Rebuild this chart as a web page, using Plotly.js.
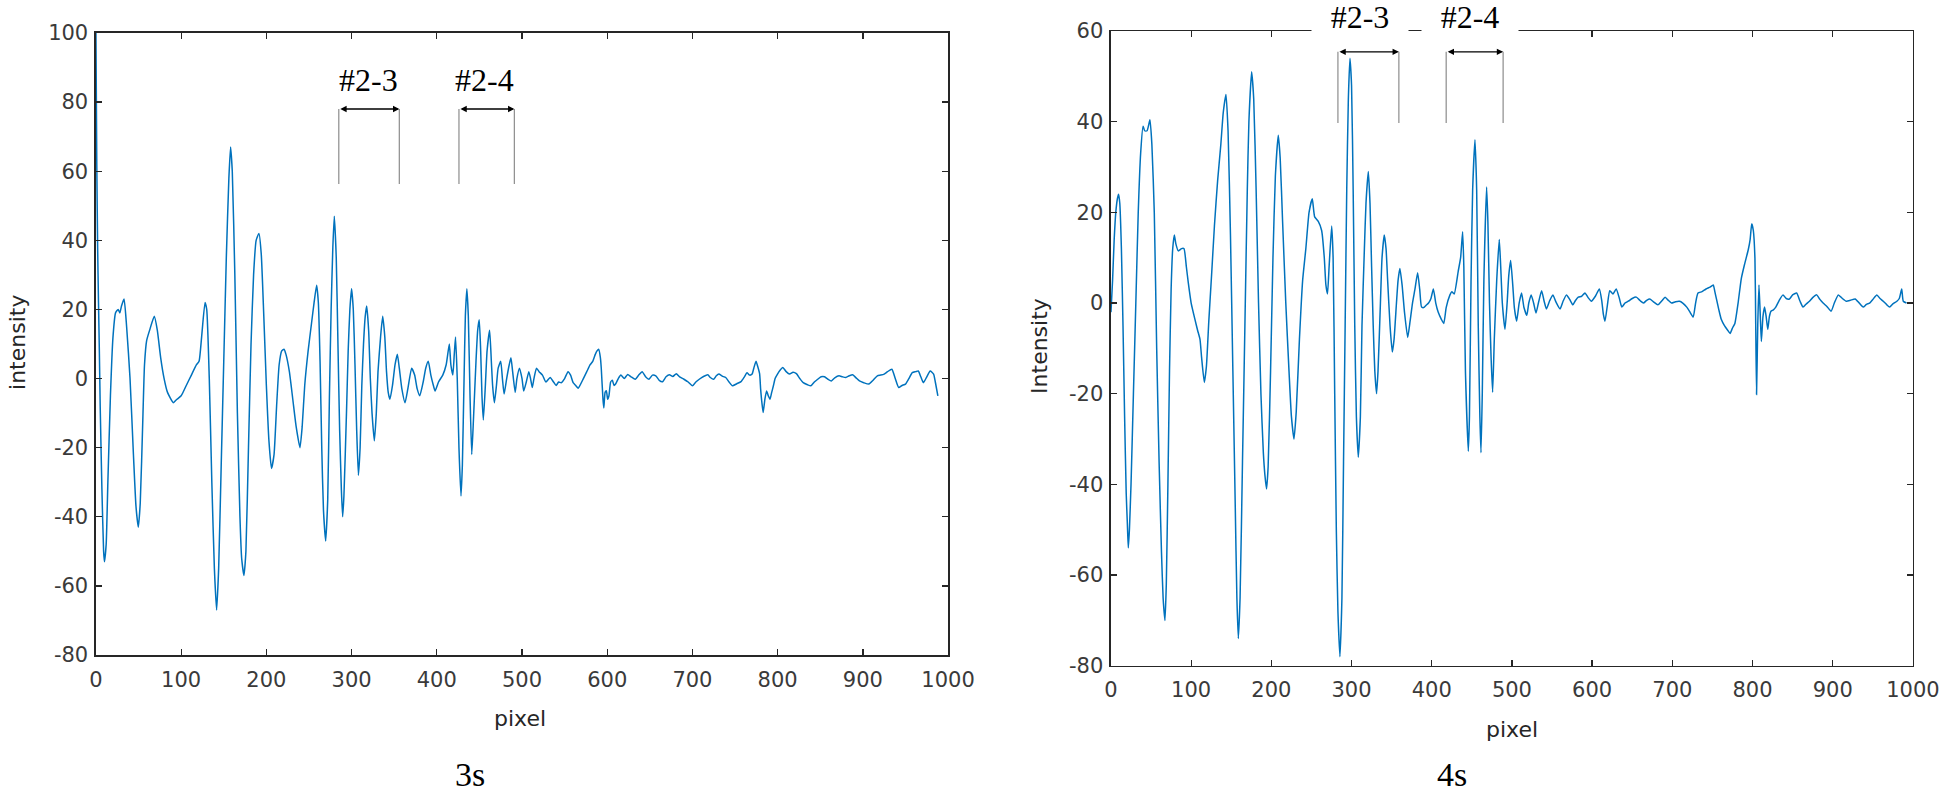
<!DOCTYPE html>
<html>
<head>
<meta charset="utf-8">
<script src="https://cdn.plot.ly/plotly-3.0.1.min.js"></script>
<style>
  html, body { margin: 0; padding: 0; background: #fff; }
  #chart { width: 1946px; height: 795px; }
</style>
</head>
<body>
<div id="chart"></div>
<script>
// 3s profile
const pixel3s = [
    0, 1, 2, 3, 4, 5, 7, 9, 10, 12,
    14, 17, 20, 23, 26, 28, 30, 33, 36, 40,
    44, 47, 49.7, 52, 55, 57, 59.5, 63, 68.5, 72,
    76, 80, 84, 90.8, 95, 100, 106, 112, 118, 121,
    124, 128, 130, 133, 136, 139, 141.6, 144, 147, 150,
    153, 156, 158, 160, 163, 166, 169, 171, 173.7, 176,
    179, 182, 185, 188, 191.3, 194, 197, 200, 203, 206,
    209, 212, 215, 218, 220.7, 223, 227, 231, 235, 239.4,
    242, 245, 249, 253, 256, 259, 261, 263, 265, 267,
    269.6, 272, 274, 276, 278, 279.7, 282, 284, 286, 288,
    289.5, 291, 294, 296, 298, 300, 302, 304, 306, 308,
    310, 312, 314, 316, 317.7, 320, 322, 324, 326.7, 329,
    331, 334, 336.5, 339, 341, 343, 345, 348, 351, 353.7,
    356, 359, 362.7, 366, 370.5, 374, 377, 380, 384, 387,
    390, 393, 396, 398, 402, 407, 411, 414.7, 416.5, 418.8,
    420.5, 422, 424, 426, 428.4, 430, 432, 433.5, 435.3, 437,
    439, 441, 443, 446, 448, 449.8, 451.5, 453, 454.6, 457,
    459, 462, 464, 465.5, 467.6, 470, 472, 475, 477, 479,
    482, 485, 487, 489, 492, 494, 497, 500, 502, 505,
    508, 510, 512, 514, 517, 520, 524, 528, 533, 537,
    540, 543, 546, 550, 554, 557, 560, 563, 566, 569,
    572, 576, 580, 583, 586, 588, 590, 592, 593, 595,
    596, 597.5, 599, 600.5, 602, 604, 606, 608, 610, 613,
    616, 620, 624, 628, 633, 637, 641, 645, 649, 653,
    657, 661, 665, 669, 673, 677, 681, 685, 690, 695,
    700, 704, 708, 713, 718, 721, 725, 728, 731, 735,
    739, 743, 747, 752, 757, 761, 764, 767, 770, 772,
    774.6, 776, 778.8, 780, 781.5, 783, 785, 787, 789, 791,
    793, 795, 797, 799.8, 803, 806, 810, 814, 818, 822,
    826, 830, 835, 839, 843, 847, 851, 855, 859, 863,
    867, 872, 876, 880, 884, 888, 892, 896, 901, 907,
    912, 917, 921, 925, 929, 934, 938, 942, 946, 950,
    954, 958, 962, 965, 968, 971, 975, 979, 983, 985, 988
]
const intensity3s = [
    100, 62, 38, 22, 8, -8, -32, -50, -53, -48,
    -30, -5, 12, 19, 20, 19, 21, 23, 15, 0,
    -22, -37, -43, -36, -12, 4, 11, 14, 18, 14,
    6, 0, -4, -7, -6, -5, -2, 1, 4, 5,
    12, 22, 20, 0, -30, -55, -67, -55, -25, 5,
    35, 58, 67, 60, 30, -10, -40, -52, -57, -50,
    -20, 10, 30, 40, 42, 36, 18, -2, -18, -26,
    -22, -8, 4, 8, 8.5, 7, 2, -6, -14, -20,
    -14, -2, 8, 16, 22, 27, 22, 5, -20, -38,
    -47, -35, -5, 20, 38, 47, 35, 10, -15, -32,
    -40, -34, -10, 8, 20, 26, 20, 4, -15, -28,
    -20, -2, 10, 18, 21, 14, 0, -10, -18, -10,
    2, 12, 18, 12, 2, -4, -6, -2, 4, 7,
    3, -3, -7, -3, 3, 1, -3, -5, -1, 3,
    5, 1, -2, -3.6, -1, 1, 4, 10, 4, 1,
    7, 12, 0, -20, -34, -25, 0, 18, 26, 18,
    -5, -22, -12, 5, 14, 17, 8, -5, -12, -2,
    8, 14, 5, -2, -7, -2, 3, 5, 0, -4.5,
    0, 4, 6, 2, -4, 0, 3, 0, -3.6, -1,
    2, 0, -2.6, 0, 3, 2, 1, -1, 0.3, -1,
    -2, -1, -1.2, 0, 2, 1, -1.2, -2, -2.8, -1.5,
    0, 2, 4, 5, 7, 8, 8.5, 6, 3, -6,
    -8.5, -4, -3.5, -6, -5, -1, -0.5, -2, -1.5, 0,
    1, 0, 1.2, 0.5, -0.2, 1, 2, 0.5, -0.2, 1,
    0.8, -0.5, -0.9, 0.5, 1.1, 0.6, 1.4, 0.5, -0.2, -1,
    -2.1, -1, -0.2, 0.6, 1.1, 0.3, -0.2, 0.8, 1.3, 0.7,
    0.3, -1, -2.1, -1.5, -0.9, 0.5, 1.7, 1, 1.3, 3,
    5, 4, 1.4, -3, -7, -9.8, -6, -3.6, -5, -6,
    -4, -2.1, 0, 1.3, 2.5, 3.2, 2, 1.3, 1.8, 1.4,
    0, -1.2, -1.8, -2.1, -1, -0.2, 0.5, 0.5, -0.2, -0.7,
    0.2, 0.8, 0.5, 0.3, 0.8, 1.1, 0.2, -0.7, -1.2, -1.6,
    -0.5, 0.8, 1, 1.3, 2, 2.7, 0, -2.6, -2, -1.6,
    0, 1.7, 2, 2.2, 0.5, -1.2, 0.5, 2.2, 1.3, -1, -5
]

// 4s profile
const pixel4s = [
    0, 2, 4, 6, 8, 9.5, 11, 13, 15, 17,
    19, 20.5, 21.6, 23, 25, 28, 31, 34, 37, 40,
    42, 45, 48.6, 51, 54, 57, 60, 63, 65, 67.3,
    69, 71, 73, 75, 77, 79, 81, 84, 88, 91,
    94, 96.4, 100, 104.7, 108, 111, 113, 116.4, 119, 122,
    125.5, 129, 133, 137, 140, 143.4, 146, 149, 152, 155,
    157, 158.8, 161, 164, 167, 170, 172, 175.4, 178, 181,
    184, 187, 190, 192, 194, 196, 199, 202, 205, 208.6,
    211, 214, 218, 222, 225, 228.2, 231, 235, 239, 243,
    247, 251, 254, 258.5, 262.7, 266, 268, 270, 272, 275.2,
    277, 279, 281, 283, 285.5, 288, 290, 292, 294, 296,
    298, 300, 302, 304, 306, 308.4, 311, 313, 316, 318,
    320.9, 323, 325, 327, 329, 331.2, 333, 336, 338, 340.8,
    343, 345, 348, 350.8, 353, 356, 358, 360.3, 363, 366,
    370, 373, 376, 379, 382.4, 385, 387.3, 390, 393, 396,
    399, 402, 405, 408, 412, 415, 418, 422.7, 425, 428,
    433, 436, 438.5, 440, 442, 445.6, 447, 449, 451, 453.9,
    456, 458, 460, 461.4, 463, 465, 468.4, 470, 472, 474,
    475.9, 478, 481, 484.2, 486, 488, 491.3, 494, 496, 498.4,
    501, 503, 505.9, 509, 512, 515, 518.5, 521, 524, 527,
    530, 533, 537, 540, 543, 547, 551, 555, 560, 564,
    568, 572, 576, 579, 582.7, 587, 591, 595, 599, 604,
    609, 612, 614, 616, 619, 622, 626, 630, 634, 637,
    641, 645, 650, 655, 660, 664, 668, 672, 677, 682,
    687, 691, 695, 699, 704, 709, 713, 718, 722, 726,
    729, 732, 737, 742, 747, 751, 753, 755, 758, 761,
    765, 769, 772, 775, 778, 782, 786, 790, 794.6, 797,
    799, 801, 803, 804, 805, 806.5, 808, 809.5, 811, 813,
    815, 817, 819, 821, 823, 826, 829, 833, 838, 842,
    846, 850, 855, 859, 863, 867, 871, 875, 880, 884,
    888, 893, 898, 902, 907, 912, 917, 922, 928, 933,
    938, 942, 946, 950, 955, 959, 963, 967, 971, 975,
    980, 983, 986, 988, 992
]
const intensity4s = [
    -2, 5, 14, 20, 23, 24, 22, 12, -5, -25,
    -42, -49, -54, -50, -40, -20, 0, 20, 33, 39,
    38, 38, 40.4, 35, 20, -10, -35, -55, -65, -70,
    -62, -40, -15, 3, 12, 15, 13, 11.5, 12, 12,
    8, 4.5, 0, -3.6, -6, -8, -12, -17.5, -14, -4,
    6.3, 17, 27, 35, 42, 46, 38, 15, -15, -45,
    -65, -74, -65, -35, -5, 25, 40, 51, 45, 25,
    0, -20, -33, -38, -41, -36, -15, 10, 28, 37,
    32, 18, 0, -15, -25, -30, -24, -8, 5, 12,
    20, 23, 19, 18, 16, 10, 4, 2, 8, 17,
    10, -20, -50, -68, -78, -65, -35, -5, 25, 45,
    54, 48, 25, -5, -25, -34, -25, -5, 12, 22,
    29, 22, 8, -5, -15, -20, -15, 0, 10, 15,
    12, 5, -5, -10.8, -8, 0, 5, 7.6, 4, -2,
    -7.6, -4, 0, 3, 6.7, 3, -0.9, -1, -0.5, 0,
    1, 3.1, 0, -2, -3.6, -4.5, -1, 1.8, 2.5, 2,
    7, 10, 15.7, 8, -15, -32.7, -25, 5, 25, 36,
    25, -5, -25, -33, -20, 5, 25.6, 18, 0, -12,
    -19.7, -8, 5, 14, 8, 0, -5.8, 0, 6, 9.4,
    4, -1, -4, 0, 2.2, -1, -2.7, 0, 1.8, 0,
    -2.2, 0, 2.7, 0.5, -1.3, 0.5, 1.8, 0.2, -1.3, 0.5,
    1.8, 0.8, -0.4, 0.5, 1.3, 1.5, 2.2, 1.2, 0.4, 1.5,
    3.1, 0.5, -2.5, -4, -0.5, 2.7, 2, 3.1, 1, -0.9,
    0, 0.4, 1, 1.3, 0.5, 0, 0.6, 0.9, 0.2, -0.4,
    0.5, 1.3, 0.6, 0, 0.3, 0.4, 0, -0.9, -2, -3.1,
    0, 2.2, 2.5, 3.1, 3.5, 4, 2.5, 0.9, -1.5, -3.6,
    -5, -6, -6.7, -5.5, -4.5, 0, 5.4, 8.5, 11.7, 14,
    17.5, 16, 9.9, -5, -20.2, -5, 4, -2, -8.5, -3,
    -0.9, -3, -5.8, -3, -1.8, -1.5, -0.9, 0.5, 1.8, 1,
    0.9, 1.8, 2.2, 0.5, -0.9, -0.2, 0.4, 1.2, 1.8, 0.8,
    0, -0.8, -1.8, 0, 1.8, 1, 0.4, 0.6, 0.9, 0,
    -0.9, -0.3, 0, 0.8, 1.8, 1, 0.4, -0.3, -0.9, -0.2,
    0.4, 1, 3.1, 0.4, 0
]

// bracket marks: [label, start pixel, end pixel, label pixel]
const brackets3s = [["#2-3", 285, 356, 320], ["#2-4", 426, 491, 456]]
const brackets4s = [["#2-3", 283, 359, 311], ["#2-4", 418, 489, 448]]
const bracketLevel3s = [78, 56.3]   // arrow height, bottom of the guide lines
const bracketLevel4s = [55.4, 39.7]

const xTicks = [0, 100, 200, 300, 400, 500, 600, 700, 800, 900, 1000]
const yTicks3s = [-80, -60, -40, -20, 0, 20, 40, 60, 80, 100]
const yTicks4s = [-80, -60, -40, -20, 0, 20, 40, 60]

const lineColor = '#0072BD'
const axisColor = '#262626'
const tickFont = {family: 'DejaVu Sans, sans-serif', size: 21, color: '#3a3a3a'}
const serif = 'Liberation Serif, Times New Roman, serif'

function axisStyle(ticks, extra) {
    return Object.assign({
        showline: true,
        mirror: 'ticks',
        linecolor: axisColor,
        linewidth: 1.5,
        ticks: 'inside',
        ticklen: 6,
        tickwidth: 1.3,
        tickcolor: axisColor,
        tickfont: tickFont,
        tickmode: 'array',
        tickvals: ticks,
        ticktext: ticks.map(String),   // plain hyphen minus, as in the original
        showgrid: false,
        zeroline: false,
        fixedrange: true,
    }, extra)
}

const traces = [
    {
        x: pixel3s, y: intensity3s,
        xaxis: 'x', yaxis: 'y',
        type: 'scatter', mode: 'lines',
        line: {color: lineColor, width: 1.5, shape: 'spline', smoothing: 0.5},
        hoverinfo: 'skip', showlegend: false,
    },
    {
        x: pixel4s, y: intensity4s,
        xaxis: 'x2', yaxis: 'y2',
        type: 'scatter', mode: 'lines',
        line: {color: lineColor, width: 1.5, shape: 'spline', smoothing: 0.5},
        hoverinfo: 'skip', showlegend: false,
    },
]

const shapes = []
const annotations = []

// labelPos: {yref, y} for the "#2-x" text, boxed: white box that cuts the top frame
function addBrackets(list, level, xr, yr, labelPos, boxed) {
    for (const [label, start, end, labelX] of list) {
        for (const px of [start, end]) {
            shapes.push({
                type: 'line', xref: xr, yref: yr,
                x0: px, x1: px, y0: level[0], y1: level[1],
                line: {color: '#8c8c8c', width: 1.2},
            })
        }
        // double-headed arrow between the guide lines
        annotations.push({
            xref: xr, yref: yr, axref: xr, ayref: yr,
            x: end, y: level[0], ax: start, ay: level[0],
            text: '', showarrow: true,
            arrowside: 'end+start', arrowhead: 2, arrowsize: 0.9,
            arrowwidth: 1.4, arrowcolor: '#000', standoff: 0, startstandoff: 0,
        })
        const note = {
            xref: xr, yref: labelPos.yref, x: labelX, y: labelPos.y,
            xanchor: 'center', yanchor: 'middle',
            text: label, showarrow: false,
            font: {family: serif, size: 32, color: '#000'},
        }
        if (boxed) {
            Object.assign(note, {bgcolor: '#fff', width: 96, height: 40, borderpad: 0})
        }
        annotations.push(note)
    }
}

addBrackets(brackets3s, bracketLevel3s, 'x', 'y', {yref: 'y', y: 86.5}, false)
addBrackets(brackets4s, bracketLevel4s, 'x2', 'y2', {yref: 'paper', y: 0.978}, true)

const titleFont = {family: 'DejaVu Sans, sans-serif', size: 22, color: '#262626'}
const captionFont = {family: serif, size: 34, color: '#000'}
function paperText(x, y, text, font, angle, yanchor) {
    annotations.push({
        xref: 'paper', yref: 'paper', x: x, y: y,
        xanchor: 'center', yanchor: yanchor || 'middle',
        text: text, textangle: angle || 0, showarrow: false, font: font,
    })
}
paperText(0.2672, 0.0956, 'pixel', titleFont)
paperText(0.777, 0.0830, 'pixel', titleFont)
paperText(0.0087, 0.5698, 'intensity', titleFont, -90)
paperText(0.5344, 0.5648, 'Intensity', titleFont, -90)
paperText(0.2415, 0.0, '3s', captionFont, 0, 'bottom')
paperText(0.7464, 0.0, '4s', captionFont, 0, 'bottom')

const layout = {
    width: 1946,
    height: 795,
    margin: {l: 0, r: 0, t: 0, b: 0},
    paper_bgcolor: '#fff',
    plot_bgcolor: '#fff',
    showlegend: false,
    xaxis: axisStyle(xTicks, {domain: [0.0493, 0.4872], range: [0, 1000], anchor: 'y', ticklabelstandoff: 5}),
    yaxis: axisStyle(yTicks3s, {domain: [0.1761, 0.9585], range: [-80, 100], anchor: 'x', ticklabelstandoff: 2}),
    xaxis2: axisStyle(xTicks, {domain: [0.5709, 0.9830], range: [0, 1000], anchor: 'y2', ticklabelstandoff: 5}),
    yaxis2: axisStyle(yTicks4s, {domain: [0.1626, 0.9610], range: [-80, 60], anchor: 'x2', ticklabelstandoff: 2}),
    shapes: shapes,
    annotations: annotations,
}

Plotly.newPlot('chart', traces, layout, {displayModeBar: false, staticPlot: true})
</script>
</body>
</html>
